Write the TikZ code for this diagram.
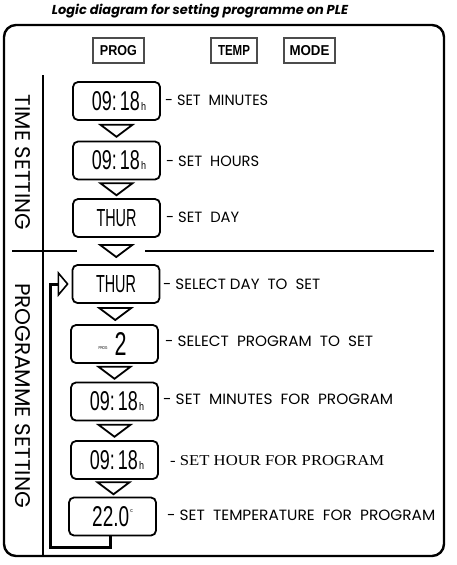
\documentclass[tikz,border=0pt]{standalone}
\usepackage{fontspec}
\setmainfont{Liberation Sans}
\newfontfamily\seriffont{Liberation Serif}
\newfontfamily\geofont{Poppins}
\usetikzlibrary{arrows.meta,calc}
\newcommand\fitbox[3]{\resizebox{#1pt}{#2pt}{#3}}
\begin{document}
\begin{tikzpicture}[x=1pt,y=-1pt,
  lcd/.style={draw, line width=1.8pt, rounded corners=5pt, minimum width=87pt, minimum height=38pt, inner sep=0pt},
  btn/.style={draw=black!70, line width=1.5pt, inner sep=0pt, minimum height=25pt},
  tri/.style={draw, line width=1.8pt, line join=miter},
  lbl/.style={anchor=west, inner sep=0pt, font=\geofont},
  sep/.style={line width=1.8pt},
  feed/.style={line width=3pt, line join=miter, -{Triangle[open, length=11pt, width=26pt, line width=1.6pt]}, shorten >=3pt}]
\useasboundingbox (0,0) rectangle (456,565);
% title
\node[inner sep=0pt] (title) at (200,11) {\resizebox{296pt}{!}{\geofont\bfseries\itshape Logic diagram for setting programme on PLE}};
% frame
\draw[line width=2.4pt, rounded corners=12pt] (4,25) rectangle (444,556);
% buttons
\node[btn, minimum width=51pt] (prog) at (118.5,50.5) {\fitbox{37}{10}{\bfseries PROG}};
\node[btn, minimum width=46pt] (temp) at (234,50.5) {\fitbox{32}{10}{\bfseries TEMP}};
\node[btn, minimum width=51pt] (mode) at (309.5,50.5) {\fitbox{40}{10}{\bfseries MODE}};
% separators
\draw[sep] (43,75) -- (43,556);
\draw[sep] (12,251) -- (77,251);
\draw[sep] (145,251) -- (434,251);
% side titles
\node[rotate=-90, inner sep=0pt, font=\geofont] (ts) at (22.5,162.5) {\fitbox{135}{15}{TIME SETTING}};
\node[rotate=-90, inner sep=0pt, font=\geofont] (ps) at (22.5,395.5) {\fitbox{225}{15}{PROGRAMME SETTING}};
% displays
\newcommand\clock{\hspace{5pt}\fitbox{48}{19}{09:\,18}\hspace{1pt}\fitbox{5}{8}{h}}
\node[lcd] (b1) at (116.5,101) {\clock};
\node[lcd] (b2) at (116.5,160.5) {\clock};
\node[lcd] (b3) at (116.5,218) {\fitbox{40}{17}{THUR}};
\node[lcd] (b4) at (116,284) {\fitbox{40}{17}{THUR}};
\node[lcd] (b5) at (114.5,344) {\hspace{-4pt}\raisebox{6pt}{\fitbox{9}{3}{PROG}}\hspace{7pt}\fitbox{12}{23}{2}};
\node[lcd] (b6) at (114.5,401.5) {\clock};
\node[lcd] (b7) at (114.5,460) {\clock};
\node[lcd] (b8) at (112.5,516.5) {\fitbox{37}{20}{22.0}\hspace{1pt}\raisebox{14pt}{\fitbox{2.5}{3}{c}}};
% flow triangles
\foreach \a/\b in {b1/b2,b2/b3,b3/b4,b4/b5,b5/b6,b6/b7,b7/b8}
  \draw[tri] ($(\a.south)!0.5!(\b.north)$) ++(-16,-6) -- ++(32,0) -- ++(-16,12) -- cycle;
% feedback loop
\draw[feed] ([xshift=-2.5pt]b8.south) -- ++(0,11) -| ([xshift=-21pt]b4.west) -- (b4.west);
% labels
\node[lbl] (l1) at (165,100.5) {\fitbox{103}{10.5}{-~SET~~MINUTES}};
\node[lbl] (l2) at (166,161) {\fitbox{93}{10.5}{-~SET~~HOURS}};
\node[lbl] (l3) at (166,217) {\fitbox{73}{10.5}{-~SET~~DAY}};
\node[lbl] (l4) at (163,284) {\fitbox{157}{10.5}{-~SELECT~DAY~~TO~~SET}};
\node[lbl] (l5) at (165,341) {\fitbox{208}{10.5}{-~SELECT~~PROGRAM~~TO~~SET}};
\node[lbl] (l6) at (163,399) {\fitbox{230}{10.5}{-~SET~~MINUTES~~FOR~~PROGRAM}};
\node[lbl, font=\seriffont] (l7) at (170,461) {\fitbox{214}{10}{- SET HOUR FOR PROGRAM}};
\node[lbl] (l8) at (167,515) {\fitbox{268}{10.5}{-~SET~~TEMPERATURE~~FOR~~PROGRAM}};
\end{tikzpicture}
\end{document}
